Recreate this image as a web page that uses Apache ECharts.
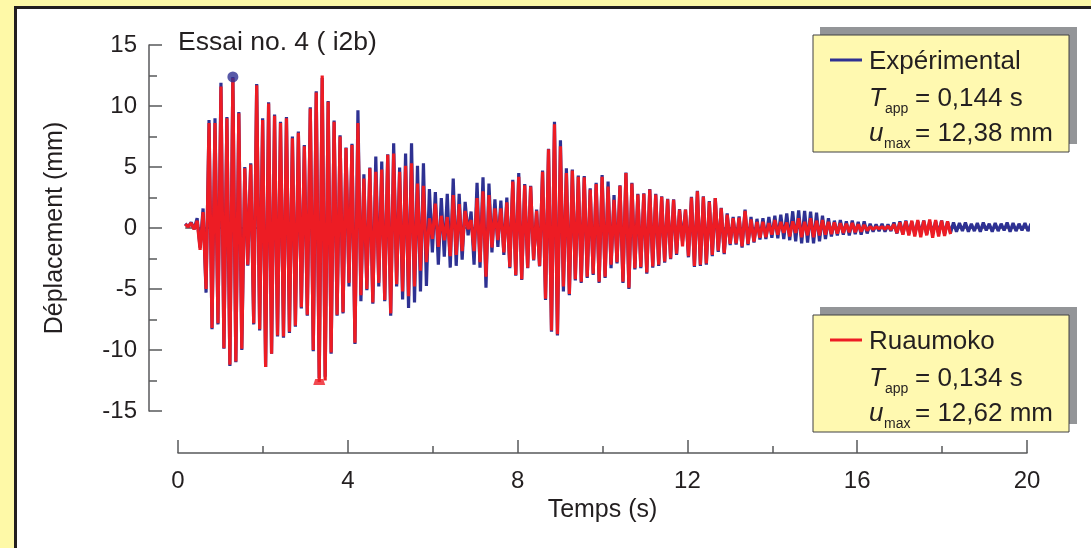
<!DOCTYPE html>
<html><head><meta charset="utf-8">
<script src="https://cdn.jsdelivr.net/npm/echarts@6/dist/echarts.min.js"></script>
<style>
html,body{margin:0;padding:0;background:#FEF9A7;overflow:hidden;}
#panel{position:absolute;left:14px;top:6px;width:1120px;height:600px;background:#fff;border:3px solid #231F20;}
#c{position:absolute;left:0;top:0;width:1091px;height:548px;}
</style>
</head><body><div id="panel"></div><div id="c"></div>
<script>
// Sampling of the extrema (first maximum time and mean period, s)
const t0 = 0.17;
const period = 0.1403;
const xTicks = [0, 4, 8, 12, 16, 20];
const yTicks = [-15, -10, -5, 0, 5, 10, 15];

// Expérimental : maxima / minima of each cycle (mm)
const expMax = [0.35,0.45,0.8,1.6,8.85,9.0,11.9,9.1,12.38,9.5,
 5.0,5.3,11.8,9.0,10.3,9.3,8.7,9.1,7.5,7.9,
 6.8,9.9,11.2,12.3,10.4,8.8,7.6,6.6,6.9,9.65,
 4.4,4.95,5.85,5.45,6.05,6.95,4.95,6.1,6.95,5.1,
 5.3,3.2,2.95,2.45,2.8,4.05,2.8,2.15,1.35,3.7,
 4.15,3.65,2.35,2.25,2.5,3.95,4.5,3.6,3.45,1.5,
 4.7,6.5,8.7,7.2,4.9,4.8,4.3,4.25,3.25,3.7,
 4.35,3.8,2.7,3.5,4.55,3.7,2.8,2.85,3.2,2.8,
 2.6,2.4,2.35,1.55,1.5,2.55,3.05,2.6,2.2,2.45,
 1.65,1.2,0.9,0.95,1.5,0.9,0.75,0.8,0.9,1.0,
 1.1,1.2,1.37,1.44,1.4,1.35,1.25,1.0,0.8,0.6,
 0.65,0.55,0.6,0.5,0.55,0.35,0.3,0.35,0.3,0.45,
 0.55,0.6,0.5,0.55,0.6,0.5,0.55,0.6,0.5,0.45,
 0.4,0.45,0.35,0.4,0.45,0.35,0.4,0.35,0.45,0.4,
 0.35,0.4,0.35];
const expMin = [0.1,-0.1,-1.6,-5.3,-8.3,-7.9,-9.9,-11.3,-11.0,-10.0,
 -3.1,-7.9,-8.4,-11.4,-10.3,-8.9,-9.0,-8.6,-8.1,-6.6,
 -7.2,-10.1,-12.3,-12.2,-10.3,-7.2,-7.0,-4.8,-9.5,-6.0,
 -5.1,-6.2,-4.8,-6.0,-7.2,-4.8,-5.85,-6.55,-6.1,-5.2,
 -4.75,-2.0,-3.0,-2.35,-3.25,-3.1,-2.6,-0.6,-3.0,-3.25,
 -4.9,-2.0,-1.55,-2.2,-3.3,-3.9,-4.25,-3.3,-2.65,-3.15,
 -5.9,-8.5,-8.8,-5.2,-5.5,-4.3,-4.5,-4.1,-3.85,-4.5,
 -4.1,-3.3,-2.9,-4.5,-5.0,-3.4,-3.3,-3.75,-3.25,-3.1,
 -2.85,-2.55,-2.2,-1.1,-2.4,-3.2,-3.1,-3.0,-2.3,-1.95,
 -2.15,-1.4,-1.35,-1.6,-1.4,-1.2,-0.95,-0.9,-0.8,-0.85,
 -0.9,-1.0,-1.1,-1.25,-1.2,-1.25,-1.1,-0.9,-0.7,-0.6,
 -0.55,-0.6,-0.5,-0.55,-0.45,-0.3,-0.25,-0.3,-0.25,-0.45,
 -0.5,-0.45,-0.5,-0.45,-0.5,-0.4,-0.45,-0.5,-0.4,-0.3,
 -0.25,-0.3,-0.25,-0.3,-0.2,-0.3,-0.25,-0.2,-0.3,-0.25,
 -0.2,-0.25,-0.2];

// Ruaumoko : maxima / minima of each cycle (mm)
const numMax = [0.3,0.4,0.6,1.3,8.6,8.6,11.6,9.0,12.3,9.4,
 4.9,5.2,11.7,8.85,10.2,9.2,8.6,9.0,7.35,7.8,
 6.7,9.8,11.1,12.5,10.35,8.7,7.5,6.55,6.8,8.6,
 4.05,4.9,4.6,4.8,6.0,6.1,4.6,5.1,5.3,3.65,
 3.45,0.8,2.0,1.0,0.9,2.7,1.95,1.4,0.65,2.45,
 3.0,2.7,1.6,1.6,2.1,3.8,4.2,3.5,3.4,1.4,
 4.6,6.45,8.5,6.7,4.5,4.7,4.2,4.15,3.15,3.6,
 4.2,3.4,2.3,3.45,4.5,3.65,2.75,2.8,3.15,2.75,
 2.55,2.35,2.3,1.5,1.5,2.5,3.0,2.55,2.15,2.45,
 1.6,1.1,0.8,0.85,1.4,0.7,0.5,0.5,0.4,0.65,
 0.5,0.45,0.55,0.8,0.5,0.8,0.6,0.65,0.5,0.45,
 0.4,0.35,0.4,0.3,0.25,0.1,0.08,0.1,0.15,0.3,
 0.45,0.55,0.6,0.65,0.6,0.7,0.65,0.6,0.55];
const numMin = [0.1,-0.1,-1.8,-5.0,-8.2,-7.8,-9.85,-11.2,-10.95,-9.9,
 -3.0,-7.8,-8.3,-11.4,-10.3,-8.8,-8.9,-8.5,-8.0,-6.5,
 -7.1,-10.0,-12.62,-12.5,-10.2,-7.1,-6.9,-4.5,-9.4,-5.5,
 -5.0,-6.1,-4.5,-5.9,-7.0,-4.6,-5.2,-5.6,-4.8,-3.5,
 -2.8,-0.9,-1.55,-1.0,-2.3,-2.2,-1.9,-0.1,-1.9,-2.8,
 -4.0,-1.6,-1.0,-2.0,-3.2,-3.85,-4.2,-3.25,-2.6,-3.1,
 -5.8,-8.4,-8.7,-4.8,-5.4,-4.2,-4.4,-4.0,-3.75,-4.4,
 -4.0,-3.0,-2.8,-4.4,-4.9,-3.3,-3.2,-3.65,-3.15,-3.0,
 -2.75,-2.5,-2.1,-1.5,-2.3,-3.1,-3.0,-2.9,-2.2,-1.85,
 -2.05,-1.3,-1.25,-1.5,-1.3,-1.1,-0.8,-0.75,-0.55,-0.55,
 -0.4,-0.7,-0.4,-0.75,-0.6,-0.75,-0.6,-0.55,-0.5,-0.45,
 -0.4,-0.35,-0.35,-0.3,-0.2,-0.1,-0.05,-0.1,-0.15,-0.4,
 -0.55,-0.6,-0.7,-0.75,-0.6,-0.8,-0.7,-0.65,-0.5];

const BLUE = '#2E3192', RED = '#ED1C24', INK = '#231F20', AX = '#58595B';
const FONT = '"Liberation Sans", Arial, sans-serif';

function build(maxArr, minArr) {
  const d = [];
  for (let i = 0; i < maxArr.length; i++) {
    const t = t0 + period * i;
    d.push([t, maxArr[i]]);
    d.push([t + period / 2, minArr[i]]);
  }
  return d;
}
const expData = build(expMax, expMin);
const numData = build(numMax, numMin);
const iExp = expMax.indexOf(Math.max(...expMax));
const iNum = numMin.indexOf(Math.min(...numMin));
const expPeak = [t0 + period * iExp, expMax[iExp]];
const numPeak = [t0 + period * iNum + period / 2, numMin[iNum]];

const chart = echarts.init(document.getElementById('c'), null, {renderer: 'canvas'});

function txt(x, y, s, size, italic) {
  return {type: 'text', x: x, y: y, z: 10,
    style: {text: s, fill: INK, fontSize: size, fontFamily: FONT,
      fontStyle: italic ? 'italic' : 'normal', verticalAlign: 'middle', align: 'left'}};
}
function legendBox(y, color, name, tval, uval) {
  return [
    {type: 'rect', z: 5, shape: {x: 820, y: y - 8, width: 257, height: 117}, style: {fill: '#939598'}},
    {type: 'rect', z: 6, shape: {x: 813, y: y, width: 256, height: 117}, style: {fill: '#FFF9B0', stroke: '#414042', lineWidth: 1}},
    {type: 'line', z: 7, shape: {x1: 830, y1: y + 25, x2: 862, y2: y + 25}, style: {stroke: color, lineWidth: 3}},
    txt(869, y + 27, name, 26, false),
    txt(869, y + 64, 'T', 26, true),
    txt(885, y + 74, 'app', 14, false),
    txt(915, y + 64, '= ' + tval, 26, false),
    txt(869, y + 99, 'u', 26, true),
    txt(884, y + 109, 'max', 14, false),
    txt(915, y + 99, '= ' + uval, 26, false)
  ];
}

const option = {
  animation: false,
  backgroundColor: 'transparent',
  grid: {left: 178, right: 64, top: 45, bottom: 137, containLabel: false},
  xAxis: {
    type: 'value', min: xTicks[0], max: xTicks[xTicks.length - 1], interval: xTicks[1] - xTicks[0],
    offset: 42,
    axisLine: {show: true, onZero: false, lineStyle: {color: AX, width: 1.5}},
    axisTick: {show: true, inside: true, length: 13, lineStyle: {color: AX, width: 1.5}},
    minorTick: {show: true, splitNumber: 2, length: 7, lineStyle: {color: AX, width: 1.5}},
    splitLine: {show: false},
    axisLabel: {fontSize: 24, color: INK, fontFamily: FONT, margin: 16, showMinLabel: true, showMaxLabel: true},
    name: 'Temps (s)', nameLocation: 'middle', nameGap: 43,
    nameTextStyle: {fontSize: 25, color: INK, fontFamily: FONT}
  },
  yAxis: {
    type: 'value', min: yTicks[0], max: yTicks[yTicks.length - 1], interval: yTicks[1] - yTicks[0],
    offset: 29,
    axisLine: {show: true, onZero: false, lineStyle: {color: AX, width: 1.5}},
    axisTick: {show: true, inside: true, length: 13, lineStyle: {color: AX, width: 1.5}},
    minorTick: {show: true, splitNumber: 2, length: 8, lineStyle: {color: AX, width: 1.5}},
    splitLine: {show: false},
    axisLabel: {fontSize: 24, color: INK, fontFamily: FONT, margin: 12, showMinLabel: true, showMaxLabel: true},
    name: 'Déplacement (mm)', nameLocation: 'middle', nameGap: 81, nameRotate: 90,
    nameTextStyle: {fontSize: 25, color: INK, fontFamily: FONT}
  },
  series: [
    {type: 'line', data: [[expData[0][0], 0], [expData[expData.length - 1][0], 0]], symbol: 'none',
      lineStyle: {color: '#5B4B4B', width: 1.5}, silent: true, z: 1},
    {type: 'line', name: 'Expérimental', data: expData, symbol: 'none', smooth: false,
      lineStyle: {color: BLUE, width: 3.2}, z: 2},
    {type: 'line', name: 'Ruaumoko', data: numData, symbol: 'none', smooth: false,
      lineStyle: {color: RED, width: 3.2}, z: 3},
    {type: 'scatter', data: [expPeak], symbol: 'circle', symbolSize: 11, itemStyle: {color: BLUE}, z: 4},
    {type: 'scatter', data: [numPeak], symbol: 'path://M0,10 L2,0 L10,0 L12,10 Z', symbolSize: [12, 6],
      itemStyle: {color: RED}, z: 4}
  ],
  graphic: {
    elements: [
      txt(178, 43, 'Essai no. 4 ( i2b)', 26.5, false),
      ...legendBox(35, BLUE, 'Expérimental', '0,144 s', '12,38 mm'),
      ...legendBox(315, RED, 'Ruaumoko', '0,134 s', '12,62 mm')
    ]
  }
};
chart.setOption(option);
</script>
</body></html>
